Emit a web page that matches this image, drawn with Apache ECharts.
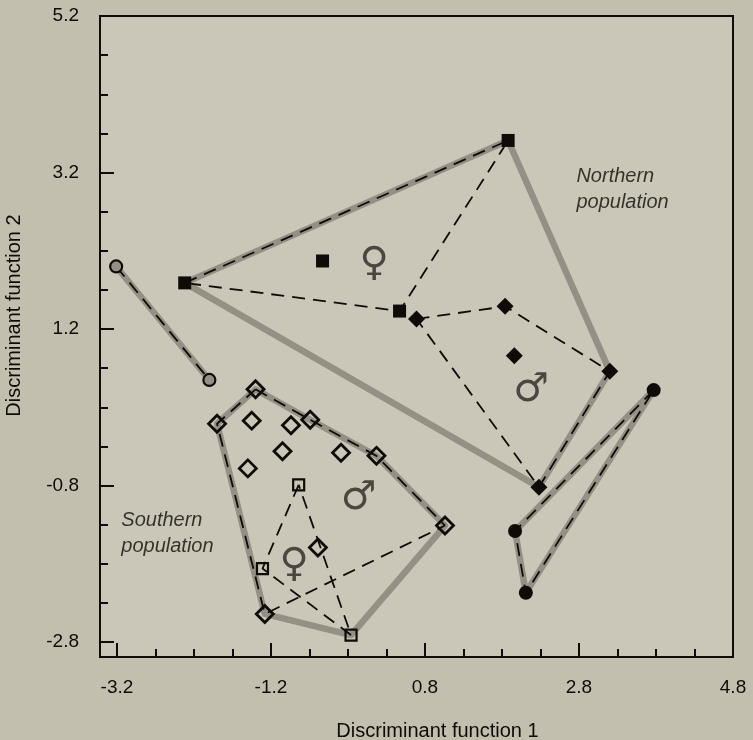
<!DOCTYPE html>
<html>
<head>
<meta charset="utf-8">
<script src="https://cdn.jsdelivr.net/npm/echarts@6/dist/echarts.min.js"></script>
<style>
html,body{margin:0;padding:0;background:#c3bfaf;}
#chart{width:753px;height:740px;}
</style>
</head>
<body>
<div id="chart"></div>
<script>
// ---- data (Discriminant function 1, Discriminant function 2) ----
var xMajorTicks = [-3.2, -1.2, 0.8, 2.8, 4.8];
var xMinorTicks = [-2.7, -2.2, -1.7, -0.7, -0.2, 0.3, 1.3, 1.8, 2.3, 3.3, 3.8, 4.3];
var yMajorTicks = [5.2, 3.2, 1.2, -0.8, -2.8];
var yMinorTicks = [4.7, 4.2, 3.7, 2.7, 2.2, 1.7, 0.7, 0.2, -0.3, -1.3, -1.8, -2.3];

// Northern population
var northFemale = [[-2.32, 1.79], [-0.53, 2.07], [1.88, 3.61], [0.47, 1.43]];
var northMale = [[0.69, 1.33], [1.84, 1.49], [1.96, 0.86], [3.20, 0.66], [2.28, -0.82]];
var northCircles = [[3.77, 0.42], [1.97, -1.38], [2.11, -2.17]];
// Southern population
var southCircles = [[-3.21, 2.00], [-2.00, 0.55]];
var southMale = [[-1.40, 0.43], [-1.90, -0.01], [-1.45, 0.03], [-0.94, -0.03], [-0.69, 0.04],
                 [-1.05, -0.36], [-0.29, -0.38], [0.17, -0.42], [-1.50, -0.58], [1.06, -1.31],
                 [-0.59, -1.59], [-1.28, -2.44]];
var southFemale = [[-0.84, -0.79], [-1.31, -1.86], [-0.16, -2.71]];

// Hulls (ordered outlines)
var northHull = [[-2.32, 1.79], [1.88, 3.61], [3.20, 0.66], [2.28, -0.82], [-2.32, 1.79]];
var northFemaleHull = [[-2.32, 1.79], [1.88, 3.61], [0.47, 1.43], [-2.32, 1.79]];
var northMaleHull = [[0.69, 1.33], [1.84, 1.49], [3.20, 0.66], [2.28, -0.82], [0.69, 1.33]];
var northCircleHull = [[3.77, 0.42], [1.97, -1.38], [2.11, -2.17], [3.77, 0.42]];
var southCircleHull = [[-3.21, 2.00], [-2.00, 0.55]];
var southHull = [[-1.40, 0.43], [-0.69, 0.04], [0.17, -0.42], [1.06, -1.31], [-0.16, -2.71],
                 [-1.28, -2.44], [-1.90, -0.01], [-1.40, 0.43]];
var southMaleHull = [[-1.40, 0.43], [-0.69, 0.04], [0.17, -0.42], [1.06, -1.31], [-1.28, -2.44],
                     [-1.90, -0.01], [-1.40, 0.43]];
var southFemaleHull = [[-0.84, -0.79], [-1.31, -1.86], [-0.16, -2.71], [-0.84, -0.79]];

// Annotations
var sexLabels = ['\u2640', '\u2642', '\u2642', '\u2640'];
var sexLabelPos = [[0.14, 2.02], [2.18, 0.41], [-0.06, -0.97], [-0.90, -1.82]];
var popLabels = ['Northern\npopulation', 'Southern\npopulation'];
var popLabelPos = [[2.76, 2.98], [-3.15, -1.41]];

// ---- chart ----
var INK = '#0e0b08';
var BAND = '#959086';

function band(data) {
  return { type: 'line', data: data, symbol: 'none', z: 1, silent: true,
    lineStyle: { color: BAND, width: 6.5, cap: 'round', join: 'round' } };
}
function dashed(data) {
  return { type: 'line', data: data, symbol: 'none', z: 2, silent: true,
    lineStyle: { color: INK, width: 1.8, type: [13, 8] } };
}
function marks(data, symbol, size, fill, border) {
  return { type: 'scatter', data: data, symbol: symbol, symbolSize: size, z: 3,
    itemStyle: { color: fill, borderColor: INK, borderWidth: border, opacity: 1 } };
}

var chart = echarts.init(document.getElementById('chart'));
var axisFont = { fontFamily: 'Liberation Sans, Arial, sans-serif', fontSize: 19, color: INK };

chart.setOption({
  backgroundColor: '#c3bfaf',
  animation: false,
  grid: { left: 100, right: 20, top: 16, bottom: 83, show: true, containLabel: false,
          outerBoundsMode: 'none',
          backgroundColor: '#cbc7b8', borderColor: INK, borderWidth: 2 },
  xAxis: [{
    type: 'value', min: -3.42, max: 4.8,
    name: 'Discriminant function 1', nameLocation: 'middle', nameGap: 64,
    nameTextStyle: { fontFamily: 'Liberation Sans, Arial, sans-serif', fontSize: 20, color: INK, padding: [0, 0, 0, 42] },
    axisLine: { show: true, onZero: false, lineStyle: { color: INK, width: 2 } },
    axisTick: { show: true, inside: true, length: 14, customValues: xMajorTicks, lineStyle: { color: INK, width: 2 } },
    axisLabel: Object.assign({ customValues: xMajorTicks, margin: 21, formatter: function (v) { return v.toFixed(1); } }, axisFont),
    splitLine: { show: false }
  }, {
    type: 'value', min: -3.42, max: 4.8, position: 'bottom',
    axisLine: { show: false, onZero: false },
    axisTick: { show: true, inside: true, length: 8, customValues: xMinorTicks, lineStyle: { color: INK, width: 2 } },
    axisLabel: { show: false }, splitLine: { show: false }
  }],
  yAxis: [{
    type: 'value', min: -2.99, max: 5.2,
    name: 'Discriminant function 2', nameLocation: 'middle', nameGap: 76,
    nameTextStyle: { fontFamily: 'Liberation Sans, Arial, sans-serif', fontSize: 20, color: INK, padding: [0, 0, 0, 42] },
    axisLine: { show: true, onZero: false, lineStyle: { color: INK, width: 2 } },
    axisTick: { show: true, inside: true, length: 14, customValues: yMajorTicks, lineStyle: { color: INK, width: 2 } },
    axisLabel: Object.assign({ customValues: yMajorTicks, margin: 21, formatter: function (v) { return v.toFixed(1); } }, axisFont),
    splitLine: { show: false }
  }, {
    type: 'value', min: -2.99, max: 5.2, position: 'left',
    axisLine: { show: false, onZero: false },
    axisTick: { show: true, inside: true, length: 8, customValues: yMinorTicks, lineStyle: { color: INK, width: 2 } },
    axisLabel: { show: false }, splitLine: { show: false }
  }],
  series: [
    band(northHull), band(northCircleHull), band(southCircleHull), band(southHull),
    dashed(northFemaleHull), dashed(northMaleHull), dashed(northCircleHull), dashed(southCircleHull),
    dashed(southMaleHull), dashed(southFemaleHull),
    marks(northFemale, 'rect', 13, INK, 0),
    marks(northMale, 'diamond', 17, INK, 0),
    marks(northCircles, 'circle', 14, INK, 0),
    marks(southCircles, 'circle', 12, BAND, 2.2),
    marks(southMale, 'diamond', 17, 'transparent', 2.8),
    marks(southFemale, 'rect', 11, 'transparent', 2.2),
    {
      type: 'scatter', z: 4, symbolSize: 1, itemStyle: { color: 'transparent' },
      data: sexLabelPos.map(function (p, i) { return { name: sexLabels[i], value: p }; }),
      label: { show: true, position: 'inside', formatter: '{b}', color: '#2a2622',
               fontFamily: 'DejaVu Sans, sans-serif', fontSize: 40 }
    },
    {
      type: 'scatter', z: 4, symbolSize: 1, itemStyle: { color: 'transparent' },
      data: popLabelPos.map(function (p, i) { return { name: popLabels[i], value: p }; }),
      label: { show: true, position: 'right', distance: 0, formatter: '{b}', color: INK, align: 'left',
               fontFamily: 'Liberation Sans, Arial, sans-serif', fontStyle: 'italic', fontSize: 20, lineHeight: 26 }
    }
  ]
});
</script>
</body>
</html>
